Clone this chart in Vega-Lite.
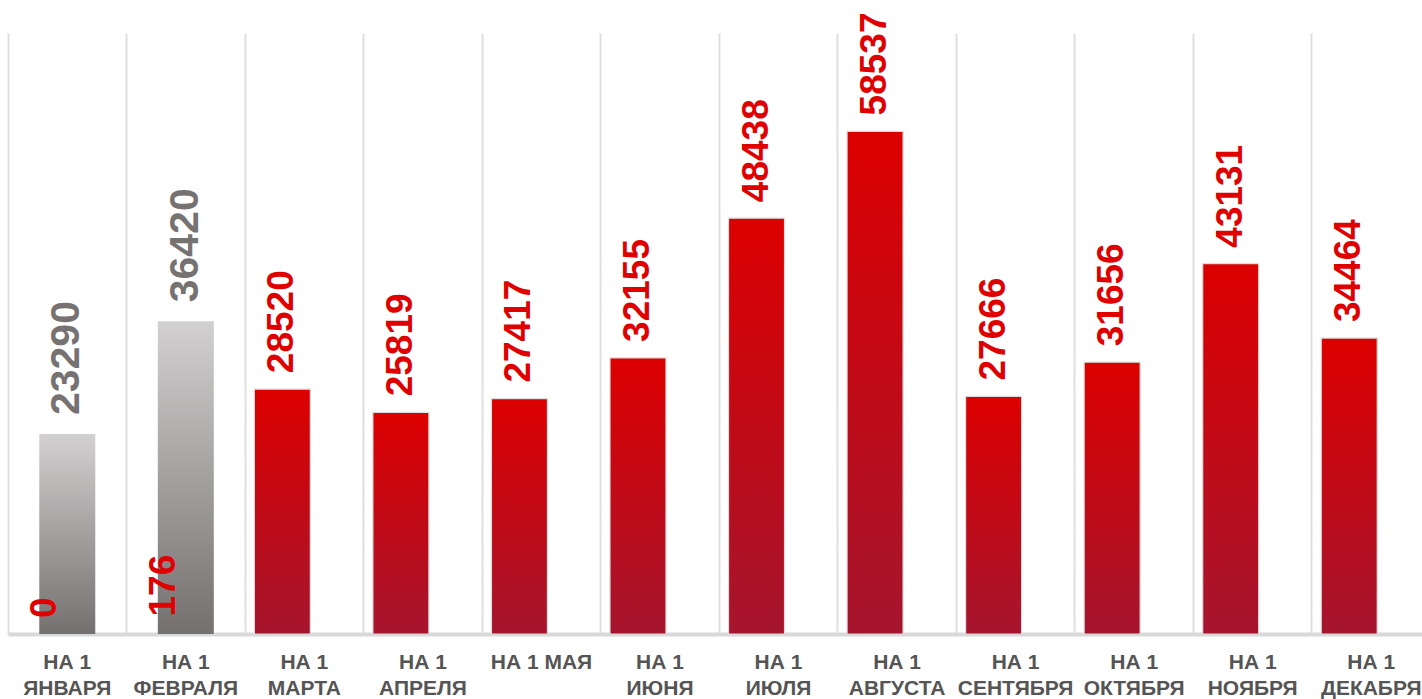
{
  "$schema": "https://vega.github.io/schema/vega-lite/v6.json",
  "autosize": "none",
  "width": 1414,
  "height": 601,
  "padding": {"left": 8, "top": 33, "right": 0, "bottom": 65},
  "background": "white",
  "config": {"view": {"stroke": null}, "font": "Liberation Sans"},
  "data": {"values": [
    {"m": "НА 1|ЯНВАРЯ", "gray": 23290, "red": 0},
    {"m": "НА 1|ФЕВРАЛЯ", "gray": 36420, "red": 176},
    {"m": "НА 1|МАРТА", "gray": null, "red": 28520},
    {"m": "НА 1|АПРЕЛЯ", "gray": null, "red": 25819},
    {"m": "НА 1 МАЯ", "gray": null, "red": 27417},
    {"m": "НА 1|ИЮНЯ", "gray": null, "red": 32155},
    {"m": "НА 1|ИЮЛЯ", "gray": null, "red": 48438},
    {"m": "НА 1|АВГУСТА", "gray": null, "red": 58537},
    {"m": "НА 1|СЕНТЯБРЯ", "gray": null, "red": 27666},
    {"m": "НА 1|ОКТЯБРЯ", "gray": null, "red": 31656},
    {"m": "НА 1|НОЯБРЯ", "gray": null, "red": 43131},
    {"m": "НА 1|ДЕКАБРЯ", "gray": null, "red": 34464}
  ]},
  "encoding": {
    "x": {
      "field": "m", "type": "nominal", "sort": null,
      "scale": {
        "domain": ["НА 1|ЯНВАРЯ", "НА 1|ФЕВРАЛЯ", "НА 1|МАРТА", "НА 1|АПРЕЛЯ", "НА 1 МАЯ", "НА 1|ИЮНЯ", "НА 1|ИЮЛЯ", "НА 1|АВГУСТА", "НА 1|СЕНТЯБРЯ", "НА 1|ОКТЯБРЯ", "НА 1|НОЯБРЯ", "НА 1|ДЕКАБРЯ"],
        "range": [0, 1422.5], "paddingInner": 0, "paddingOuter": 0},
      "axis": {
        "title": null, "labelAngle": 0, "ticks": false,
        "labelExpr": "split(datum.value, '|')",
        "labelFontSize": 21, "labelFontWeight": "bold", "labelColor": "#555555",
        "labelLineHeight": 26, "labelPadding": 17, "labelBaseline": "top",
        "domainColor": "#d9d9d9", "domainWidth": 4,
        "grid": true, "bandPosition": 0, "gridColor": "#e0e0e0", "gridWidth": 2,
        "labelOverlap": false, "labelBound": false
      }
    }
  },
  "layer": [
    {
      "transform": [{"filter": "datum.red > 1000"}],
      "mark": {"type": "bar", "width": 56, "xOffset": -22, "stroke": "#dcdcdc", "strokeWidth": 1.2,
        "color": {"gradient": "linear", "x1": 0, "y1": 0, "x2": 0, "y2": 1,
          "stops": [{"offset": 0, "color": "#dc0000"}, {"offset": 1, "color": "#a5152e"}]}},
      "encoding": {
        "y": {"field": "red", "type": "quantitative", "scale": {"domain": [0, 70000]}, "axis": null}
      }
    },
    {
      "mark": {"type": "bar", "width": 56,
        "color": {"gradient": "linear", "x1": 0, "y1": 0, "x2": 0, "y2": 1,
          "stops": [{"offset": 0, "color": "#d2d0d0"}, {"offset": 1, "color": "#747070"}]}},
      "encoding": {
        "y": {"field": "gray", "type": "quantitative"}
      }
    },
    {
      "mark": {"type": "text", "angle": 270, "align": "left", "baseline": "middle", "dx": 16, "xOffset": -22,
        "fontSize": 37, "fontWeight": "bold", "color": "#e00000"},
      "encoding": {
        "y": {"field": "red", "type": "quantitative"},
        "text": {"field": "red", "type": "nominal"}
      }
    },
    {
      "mark": {"type": "text", "angle": 270, "align": "left", "baseline": "middle", "dx": 19,
        "fontSize": 41, "fontWeight": "bold", "color": "#767272"},
      "encoding": {
        "y": {"field": "gray", "type": "quantitative"},
        "text": {"field": "gray", "type": "nominal"}
      }
    }
  ]
}
